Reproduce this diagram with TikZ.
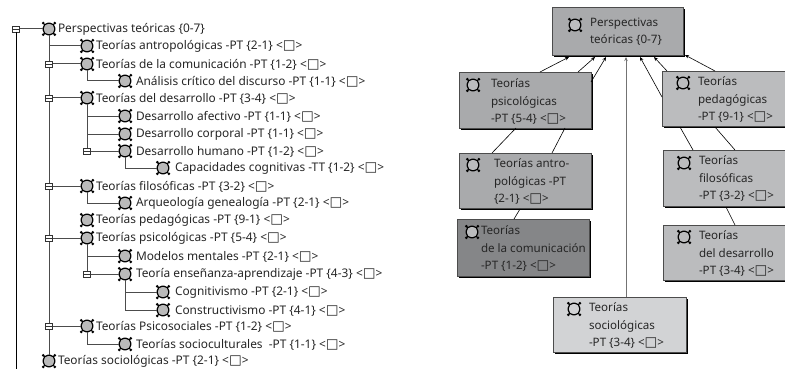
\documentclass[tikz,border=0pt]{standalone}
\usepackage{fontspec}
\setmainfont{Noto Sans}
\newfontfamily\symf{DejaVu Sans}
\usetikzlibrary{shadows,arrows.meta}
\newcommand{\sq}{{\symf\fontsize{13.5pt}{13.5pt}\selectfont\char"25A1}}
\definecolor{cA}{HTML}{A9AAAC}
\definecolor{cB}{HTML}{BBBCBE}
\definecolor{cC}{HTML}{858688}
\definecolor{cD}{HTML}{D2D3D5}
\tikzset{
 ico/.style={draw=black,line width=1.2pt,rounded corners=4.8pt,minimum size=11.5pt,inner sep=0pt,outer sep=0pt},
 lbl/.style={anchor=west,inner sep=0pt,outer sep=0pt,yshift=-.6pt,font=\fontsize{11.9pt}{17.7pt}\selectfont,align=left,text=black!85},
 blbl/.style={lbl,font=\fontsize{11.6pt}{17.7pt}\selectfont},
 rbox/.style={draw=black!70,line width=.7pt,inner sep=0pt,outer sep=0pt,drop shadow={shadow xshift=1.6pt,shadow yshift=-1.6pt,fill=black,opacity=1}},
 tl/.style={draw=black!70,line width=1pt},
 bl/.style={draw=black,line width=.8pt},
 arr/.style={draw=black,line width=.6pt,-{Stealth[length=4pt,width=3.5pt]}},
 lnk/.style={draw=black,line width=.6pt},
 minusb/.style={draw=black!80,fill=white,line width=.7pt,minimum width=7pt,minimum height=6pt,inner sep=0pt,outer sep=0pt,
   path picture={\draw[black!80,line width=.7pt] (path picture bounding box.west) -- (path picture bounding box.east);}}
}
\newcommand{\icon}[4]{%
 \node[ico,fill=#4] (#1) at (#2,#3) {};
 \fill[black] (#1.north west) circle (1.5pt) (#1.north east) circle (1.5pt) (#1.south west) circle (1.5pt) (#1.south east) circle (1.5pt);}
\newcommand{\row}[5]{% name, icon x, y, text x, text
 \icon{#1}{#2}{#3}{black!27}
 \node[lbl] (#1t) at (#4,#3) {#5};}
\newcommand{\bx}[6]{%
 \node[rbox,fill=#6,minimum width={(#4-#2)*1pt},minimum height={(#5-#3)*1pt}] (#1) at ({(#2+#4)/2},{(#3+#5)/2}) {};}
\begin{document}
\begin{tikzpicture}[x=1pt,y=-1pt]
\useasboundingbox (0,0) rectangle (785,369);
% tree
\row{r}{49}{29}{58}{Perspectivas teóricas \{0-7\}}
\row{a}{87}{46}{96}{Teorías antropológicas -PT \{2-1\} <\sq>}
\row{b}{87}{64}{96}{Teorías de la comunicación -PT \{1-2\} <\sq>}
\row{b1}{125}{81}{136}{Análisis crítico del discurso -PT \{1-1\} <\sq>}
\row{c}{87}{98}{96}{Teorías del desarrollo -PT \{3-4\} <\sq>}
\row{c1}{125}{116}{136}{Desarrollo afectivo -PT \{1-1\} <\sq>}
\row{c2}{125}{134}{136}{Desarrollo corporal -PT \{1-1\} <\sq>}
\row{c3}{125}{151}{136}{Desarrollo humano -PT \{1-2\} <\sq>}
\row{c4}{163}{168}{175}{Capacidades cognitivas -TT \{1-2\} <\sq>}
\row{d}{87}{186}{96}{Teorías filosóficas -PT \{3-2\} <\sq>}
\row{d1}{125}{203}{136}{Arqueología genealogía -PT \{2-1\} <\sq>}
\row{e}{87}{220}{96}{Teorías pedagógicas -PT \{9-1\} <\sq>}
\row{f}{87}{238}{96}{Teorías psicológicas -PT \{5-4\} <\sq>}
\row{f1}{125}{256}{136}{Modelos mentales -PT \{2-1\} <\sq>}
\row{f2}{125}{274}{136}{Teoría enseñanza-aprendizaje -PT \{4-3\} <\sq>}
\row{f3}{163}{292}{175}{Cognitivismo -PT \{2-1\} <\sq>}
\row{f4}{163}{310}{175}{Constructivismo -PT \{4-1\} <\sq>}
\row{g}{87}{326}{96}{Teorías Psicosociales -PT \{1-2\} <\sq>}
\row{g1}{125}{344}{136}{Teorías socioculturales\ \ -PT \{1-1\} <\sq>}
\row{h}{49}{361}{58}{Teorías sociológicas -PT \{2-1\} <\sq>}
\coordinate (endl) at (16,369);
% tree lines
\draw[tl] (r.south) -- (h.north);
\draw[tl] (r.south) |- (a.west);
\draw[tl] (b.south) |- (b1.west);
\draw[tl] (c.south) |- (c1.west);
\draw[tl] (c.south) |- (c2.west);
\draw[tl] (c3.south) |- (c4.west);
\draw[tl] (d.south) |- (d1.west);
\draw[tl] (f.south) |- (f1.west);
\draw[tl] (f2.south) |- (f3.west);
\draw[tl] (f2.south) |- (f4.west);
\draw[tl] (g.south) |- (g1.west);
\node[minusb] (m0) at (16,29) {};
\node[minusb] (m1) at (49,64) {};
\node[minusb] (m2) at (49,98) {};
\node[minusb] (m3) at (49,186) {};
\node[minusb] (m4) at (49,238) {};
\node[minusb] (m5) at (49,326) {};
\node[minusb] (m6) at (87,151) {};
\node[minusb] (m7) at (87,274) {};
\draw[bl] (m0) -- (endl);
\draw[tl] (m0) -- (r);
\draw[tl] (m1) -- (b);
\draw[tl] (m2) -- (c);
\draw[tl] (m3) -- (d);
\draw[tl] (m4) -- (f);
\draw[tl] (m5) -- (g);
\draw[tl] (m6) -- (c3);
\draw[tl] (m7) -- (f2);
\draw[tl] (c.south) -- (m6);
\draw[tl] (f.south) -- (m7);
% boxes
\bx{P}{552}{7}{683}{55}{cA}
\bx{Q}{459}{72}{591}{128}{cA}
\bx{R}{662}{71}{786}{126}{cB}
\bx{S}{459}{153}{591}{208}{cA}
\bx{T}{457}{219}{589}{276}{cC}
\bx{U}{663}{150}{786}{206}{cB}
\bx{V}{663}{225}{786}{280}{cB}
\bx{W}{553}{297}{686}{352}{cD}
% box texts
\icon{Pi}{575}{25}{cB}
\node[blbl] (Pt) at (590,31) {Perspectivas\\teóricas \{0-7\}};
\icon{Qi}{473}{85}{cB}
\node[blbl] (Qt) at (491,101) {Teorías\\psicológicas\\-PT \{5-4\} <\sq>};
\icon{Ri}{683}{83}{cB}
\node[blbl] (Rt) at (698,99) {Teorías\\pedagógicas\\-PT \{9-1\} <\sq>};
\icon{Si}{473}{165}{cB}
\node[blbl] (St) at (494,181) {Teorías antro-\\pológicas -PT\\\{2-1\} <\sq>};
\icon{Ti}{472}{232}{cB}
\node[blbl] (Tt) at (481,248) {Teorías\\de la comunicación\\-PT \{1-2\} <\sq>};
\icon{Ui}{684}{163}{cB}
\node[blbl] (Ut) at (699,178) {Teorías\\filosóficas\\-PT \{3-2\} <\sq>};
\icon{Vi}{684}{237}{cB}
\node[blbl] (Vt) at (699,253) {Teorías\\del desarrollo\\-PT \{3-4\} <\sq>};
\icon{Wi}{574}{309}{cD}
\node[blbl] (Wt) at (589,325) {Teorías\\sociológicas\\-PT \{3-4\} <\sq>};
% box connectors
\draw[arr] ([xshift=81pt]Q.north west) -- ([xshift=17pt,yshift=-2pt]P.south west);
\draw[arr] ([xshift=119pt]Q.north west) -- ([xshift=43pt,yshift=-2pt]P.south west);
\draw[arr] ([yshift=-10pt]Q.north east) -- ([xshift=54pt,yshift=-2pt]P.south west);
\draw[arr,draw=black!55,line width=1pt] (W.north -| 626,297) -- ([xshift=74pt,yshift=-2pt]P.south west);
\draw[arr] ([yshift=-26pt]R.north west) -- ([xshift=88pt,yshift=-2pt]P.south west);
\draw[arr] ([xshift=5pt]R.north west) -- ([xshift=102pt,yshift=-2pt]P.south west);
\draw[arr] ([xshift=53pt]R.north west) -- ([xshift=2pt]P.south east);
\draw[lnk] ([xshift=57pt]Q.south west) -- ([xshift=33pt]S.north west);
\draw[lnk] ([xshift=106pt]Q.south west) -- ([xshift=93pt]S.north west);
\draw[lnk] ([xshift=61pt,yshift=-1pt]S.south west) -- ([xshift=57pt]T.north west);
\draw[lnk] ([xshift=18pt,yshift=-1pt]R.south west) -- ([xshift=30pt]U.north west);
\draw[lnk] ([xshift=53pt,yshift=-1pt]R.south west) -- ([xshift=72pt]U.north west);
\draw[lnk] ([xshift=63pt,yshift=-1pt]U.south west) -- ([xshift=72pt]V.north west);
\end{tikzpicture}
\end{document}
